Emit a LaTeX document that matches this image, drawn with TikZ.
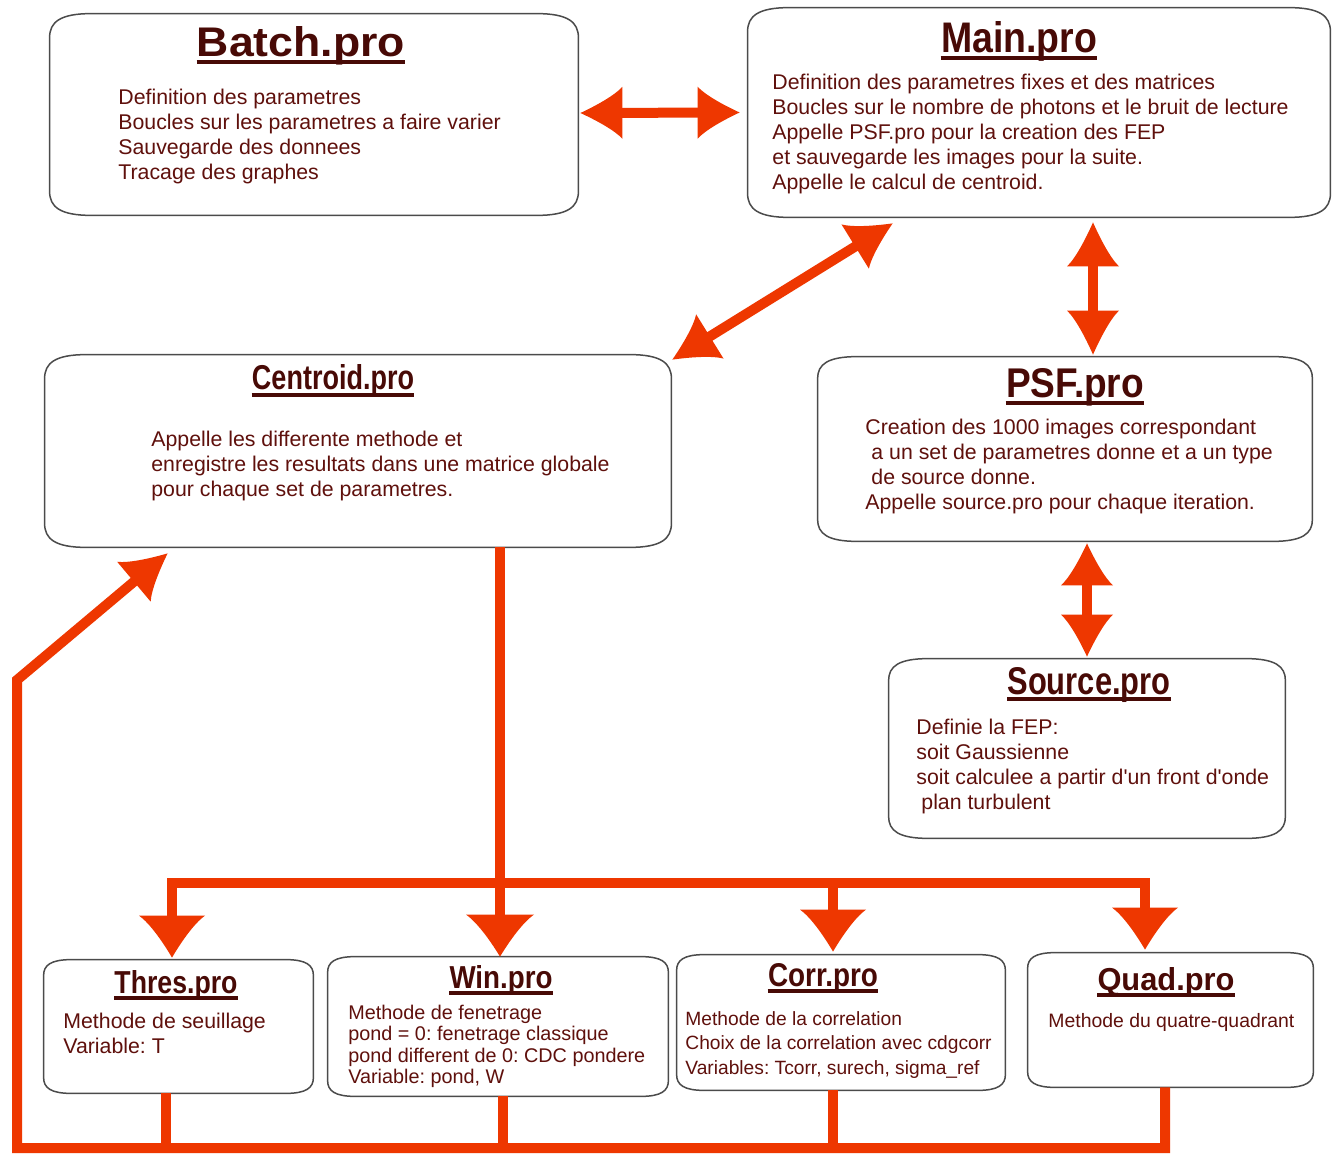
\documentclass[tikz,border=0pt]{standalone}
\usepackage{fontspec}
\setmainfont{Liberation Sans}
\usetikzlibrary{arrows.meta,calc}
\definecolor{ared}{RGB}{238,55,0}
\definecolor{tbrown}{RGB}{72,10,6}
\definecolor{bbrown}{RGB}{95,16,12}
\definecolor{bline}{RGB}{75,75,75}
\frenchspacing

\pgfdeclarearrow{
  name = Cc,
  defaults = {length = 21pt, width = 26pt},
  setup code = {
    \pgfarrowssettipend{0pt}
    \pgfarrowssetlineend{-0.7\pgfarrowlength}
    \pgfarrowssetbackend{-\pgfarrowlength}
    \pgfarrowshullpoint{0pt}{0pt}
    \pgfarrowsupperhullpoint{-\pgfarrowlength}{0.5\pgfarrowwidth}
    \pgfarrowssavethe\pgfarrowlength
    \pgfarrowssavethe\pgfarrowwidth
  },
  drawing code = {
    \pgfpathmoveto{\pgfpointorigin}
    \pgfpathcurveto{\pgfpoint{-0.4\pgfarrowlength}{0.15\pgfarrowwidth}}{\pgfpoint{-0.82\pgfarrowlength}{0.34\pgfarrowwidth}}{\pgfpoint{-\pgfarrowlength}{0.5\pgfarrowwidth}}
    \pgfpathlineto{\pgfpoint{-\pgfarrowlength}{-0.5\pgfarrowwidth}}
    \pgfpathcurveto{\pgfpoint{-0.82\pgfarrowlength}{-0.34\pgfarrowwidth}}{\pgfpoint{-0.4\pgfarrowlength}{-0.15\pgfarrowwidth}}{\pgfpointorigin}
    \pgfpathclose
    \pgfusepathqfill
  },
  parameters = {\the\pgfarrowlength,\the\pgfarrowwidth},
}

\newcommand\ttlx[3]{\resizebox{#1pt}{#2pt}{\bfseries #3}}
\newcommand\fstr{\rule{0pt}{8pt}}
\newcommand\ulin[1]{\draw[uline] ($(#1.base west)+(0,5)$) -- ($(#1.base east)+(0,5)$);}
\newcommand\boxo[3]{%
  \draw[boxline] ($(#1.north west)+(0,#3)$)
    .. controls ($(#1.north west)+(0,0.35*#3)$) and ($(#1.north west)+(0.25*#2,0)$) .. ($(#1.north west)+(#2,0)$)
    -- ($(#1.north east)+(-#2,0)$)
    .. controls ($(#1.north east)+(-0.25*#2,0)$) and ($(#1.north east)+(0,0.35*#3)$) .. ($(#1.north east)+(0,#3)$)
    -- ($(#1.south east)+(0,-#3)$)
    .. controls ($(#1.south east)+(0,-0.35*#3)$) and ($(#1.south east)+(-0.25*#2,0)$) .. ($(#1.south east)+(-#2,0)$)
    -- ($(#1.south west)+(#2,0)$)
    .. controls ($(#1.south west)+(0.25*#2,0)$) and ($(#1.south west)+(0,-0.35*#3)$) .. ($(#1.south west)+(0,-#3)$)
    -- cycle;}

\begin{document}
\begin{tikzpicture}[x=0.5pt,y=-0.5pt,
  conn/.style={draw=ared, line width=5pt},
  boxnode/.style={draw=none, inner sep=0pt},
  boxline/.style={draw=bline, line width=0.75pt},
  ttl/.style={anchor=base, inner sep=0pt, text=tbrown},
  uline/.style={draw=tbrown, line width=1.6pt},
  body/.style={anchor=north west, inner sep=0pt, align=left, text=bbrown, font=\fontsize{10.65}{12.5}\selectfont}]

\fill[white] (0,0) rectangle (1337,1154);
\useasboundingbox (0,0) rectangle (1337,1154);

% ---------- boxes ----------
\node[boxnode, minimum width=264pt, minimum height=100.5pt] (batch) at (314,114.5) {};
\node[boxnode, minimum width=291pt, minimum height=104.5pt] (main) at (1039,112.5) {};
\node[boxnode, minimum width=313pt, minimum height=96pt] (centroid) at (358,451) {};
\node[boxnode, minimum width=247pt, minimum height=92pt] (psf) at (1065,449) {};
\node[boxnode, minimum width=198pt, minimum height=89.5pt] (source) at (1087,748.5) {};
\node[boxnode, minimum width=134.5pt, minimum height=66.5pt] (thres) at (178.5,1026.5) {};
\node[boxnode, minimum width=170pt, minimum height=69.5pt] (win) at (498,1026.5) {};
\node[boxnode, minimum width=164pt, minimum height=67.5pt] (corr) at (841,1022.5) {};
\node[boxnode, minimum width=142.5pt, minimum height=67pt] (quad) at (1170.5,1020) {};

\boxo{batch}{42}{24}
\boxo{main}{42}{24}
\boxo{centroid}{42}{24}
\boxo{psf}{40}{22}
\boxo{source}{40}{22}
\boxo{thres}{28}{16}
\boxo{win}{28}{16}
\boxo{corr}{28}{16}
\boxo{quad}{28}{16}

% ---------- titles ----------
\node[ttl] (tbatch) at (301,57) {\ttlx{104}{15}{Batch.pro}};
\node[ttl] (tmain) at (1019,53) {\ttlx{78}{15.5}{Main.pro}};
\node[ttl] (tcent) at (333,390) {\ttlx{81}{12.5}{Centroid.pro}};
\node[ttl] (tpsf) at (1075,398) {\ttlx{69}{14.5}{PSF.pro}};
\node[ttl] (tsrc) at (1089,694) {\ttlx{81.5}{13.5}{Source.pro}};
\node[ttl] (tthr) at (176,993) {\ttlx{61.5}{11.5}{Thres.pro}};
\node[ttl] (twin) at (501,988) {\ttlx{51.5}{11.5}{Win.pro}};
\node[ttl] (tcorr) at (823,986) {\ttlx{55}{11.5}{Corr.pro}};
\node[ttl] (tquad) at (1166,990) {\ttlx{68.5}{11.5}{Quad.pro}};
\ulin{tbatch}\ulin{tmain}\ulin{tcent}\ulin{tpsf}\ulin{tsrc}
\ulin{tthr}\ulin{twin}\ulin{tcorr}\ulin{tquad}

% ---------- body texts ----------
\node[body] (bbatch) at (118,88) {\fstr Definition des parametres\\Boucles sur les parametres a faire varier\\Sauvegarde des donnees\\Tracage des graphes};
\node[body] (bmain) at (772,73) {\fstr Definition des parametres fixes et des matrices\\Boucles sur le nombre de photons et le bruit de lecture\\Appelle PSF.pro pour la creation des FEP\\et sauvegarde les images pour la suite.\\Appelle le calcul de centroid.};
\node[body] (bcent) at (151,430) {\fstr Appelle les differente methode et\\enregistre les resultats dans une matrice globale\\pour chaque set de parametres.};
\node[body] (bpsf) at (865,418) {\fstr Creation des 1000 images correspondant\\\hspace{3pt}a un set de parametres donne et a un type\\\hspace{3pt}de source donne.\\Appelle source.pro pour chaque iteration.};
\node[body] (bsrc) at (916,718) {\fstr Definie la FEP:\\soit Gaussienne\\soit calculee a partir d\textquotesingle un front d\textquotesingle onde\\\hspace{2.5pt}plan turbulent};
\node[body] (bthr) at (63,1012) {\fstr Methode de seuillage\\Variable: T};
\node[body, font=\fontsize{9.9}{10.7}\selectfont] (bwin) at (348,1003) {\fstr Methode de fenetrage\\pond = 0: fenetrage classique\\pond different de 0: CDC pondere\\Variable: pond, W};
\node[body, font=\fontsize{9.6}{12.25}\selectfont] (bcorr) at (685,1009) {\fstr Methode de la correlation\\Choix de la correlation avec cdgcorr\\Variables: Tcorr, surech, sigma\_ref};
\node[body, font=\fontsize{9.7}{12}\selectfont] (bquad) at (1048,1011) {\fstr Methode du quatre-quadrant};

% ---------- connectors ----------
\draw[conn, Cc-Cc] ($(batch.east)+(2,-1.5)$) -- ($(main.west)+(-8,0)$);
\draw[conn, {Cc[length=22pt,width=26pt]}-{Cc[length=22pt,width=26pt]}] ($(main.south west)+(145,6)$) -- ($(centroid.north east)+(1,5)$);
\draw[conn, {Cc[length=22pt,width=26pt]}-{Cc[length=22pt,width=26pt]}] ($(main.south)+(54,5)$) -- ($(psf.north)+(28,-2)$);
\draw[conn, Cc-Cc] ($(psf.south)+(22,2)$) -- ($(source.north)+(0,-2)$);

\coordinate (j) at ($(centroid.south)+(142,336)$);
\coordinate (tb) at ($(thres.north)+(-6.5,0)$);
\coordinate (cb) at ($(corr.north)+(-8,0)$);
\coordinate (qb) at ($(quad.north)+(-25.5,0)$);
\draw[conn, -{Cc[width=34pt]}] ($(centroid.south)+(142,0)$) -- ($(win.north)+(2,0)$);
\draw[conn, {Cc[width=33pt]}-{Cc[width=33pt]}] ($(tb)+(0,-2)$) -- (tb |- j) -- (qb |- j) -- ($(qb)+(0,-3)$);
\draw[conn, -{Cc[width=33pt]}] (cb |- j) -- ($(cb)+(0,-3)$);

\coordinate (ls) at (17,1148);
\coordinate (lk) at (17,680);
\coordinate (td) at ($(thres.south)+(-13,0)$);
\coordinate (wd) at ($(win.south)+(5,0)$);
\coordinate (cd) at ($(corr.south)+(-8,0)$);
\coordinate (qd) at ($(quad.south)+(-5.5,0)$);
\draw[conn] (td) -- (td |- ls);
\draw[conn] (wd) -- (wd |- ls);
\draw[conn] (cd) -- (cd |- ls);
\draw[conn, -{Cc[length=22pt,width=26pt]}] (qd) -- (qd |- ls) -- (ls) -- (lk) -- ($(centroid.south west)+(123,6)$);
\end{tikzpicture}
\end{document}
